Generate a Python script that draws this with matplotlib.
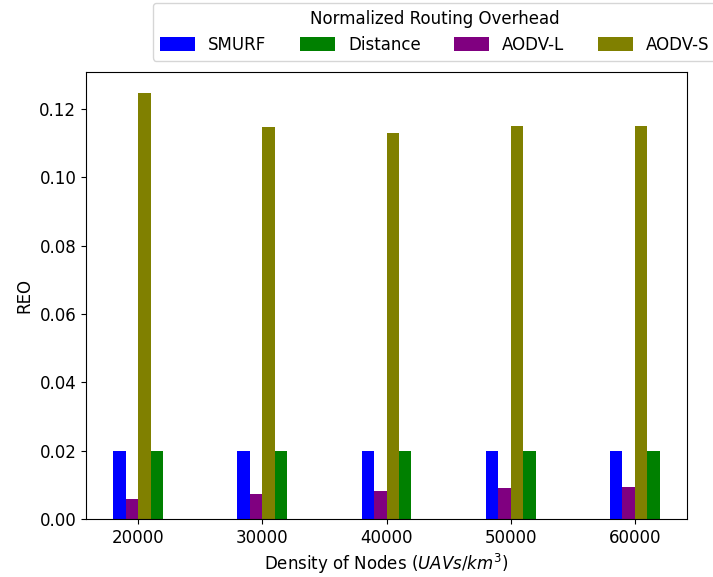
import matplotlib
matplotlib.use("Agg")
import matplotlib.pyplot as plt
import numpy as np

plt.rcParams['font.size'] = 12

densities = [20000, 30000, 40000, 50000, 60000]
smurf = [0.02, 0.02, 0.02, 0.02, 0.02]
distance = [0.02, 0.02, 0.02, 0.02, 0.02]
aodv_l = [0.006, 0.0073, 0.0083, 0.009, 0.0094]
aodv_s = [0.1247, 0.1147, 0.1130, 0.1150, 0.1150]

fig = plt.figure(figsize=(7.13, 5.77), dpi=100)
ax = fig.add_axes([86/713, 1 - 519/577, (687 - 86)/713, (519 - 71.7)/577])

x = np.array(densities)
w = 1000
b1 = ax.bar(x - 1.5*w, smurf, width=w, color='blue', label='SMURF')
b4 = ax.bar(x - 0.5*w, aodv_l, width=w, color='purple', label='AODV-L')
b3 = ax.bar(x + 0.5*w, aodv_s, width=w, color='olive', label='AODV-S')
b2 = ax.bar(x + 1.5*w, distance, width=w, color='green', label='Distance')

ax.set_xticks(densities)
ax.set_xticklabels([str(d) for d in densities])
ax.set_xlabel('Density of Nodes ($UAVs/km^3$)')
ax.set_ylabel('REO')

fig.legend(handles=[b1, b2, b4, b3],
           labels=['SMURF', 'Distance', 'AODV-L', 'AODV-S'],
           title='Normalized Routing Overhead', ncol=4, loc='upper left',
           bbox_to_anchor=(153/713, 1 - 3/577), bbox_transform=fig.transFigure,
           borderaxespad=0, title_fontsize=12, fontsize=12,
           handlelength=2.1, handleheight=0.9)

fig.savefig('out.png', dpi=100)
